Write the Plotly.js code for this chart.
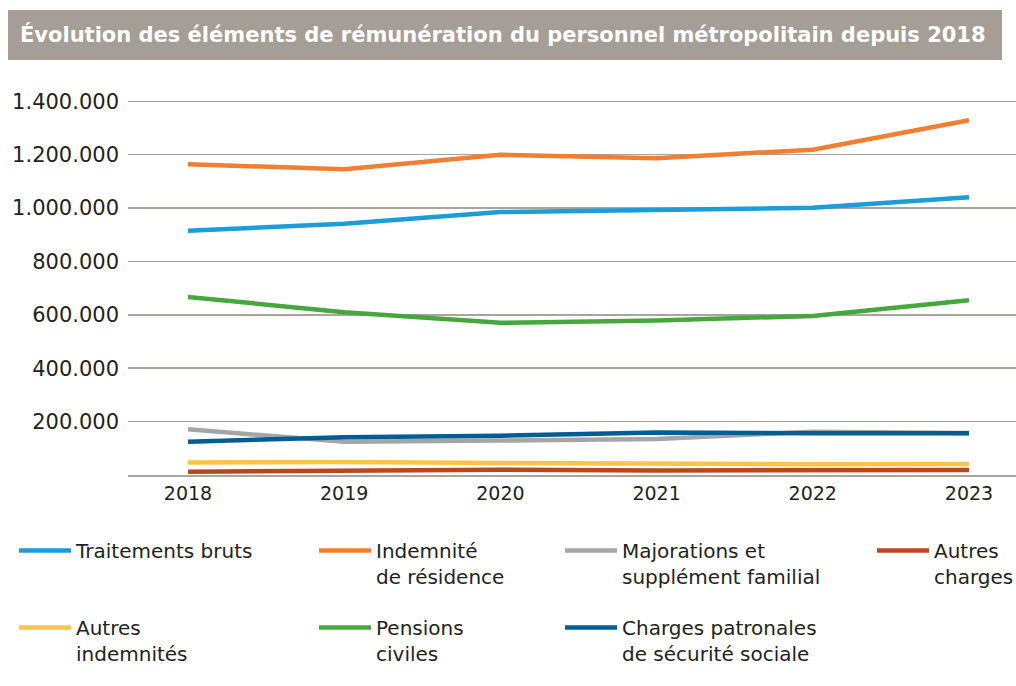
<!DOCTYPE html>
<html><head><meta charset="utf-8">
<script src="https://cdn.plot.ly/plotly-3.0.1.min.js"></script>
<style>html,body{margin:0;padding:0;background:#fff}</style>
</head><body><div id="chart" style="width:1016px;height:686px"></div>
<script>
const years = ['2018','2019','2020','2021','2022','2023'];
const traitementsBruts = [915000, 941000, 985000, 994000, 1001000, 1041000];
const indemniteResidence = [1164000, 1146000, 1200000, 1187000, 1219000, 1329000];
const majorations = [171000, 125000, 129000, 135000, 162000, 157000];
const autresCharges = [12000, 17000, 20000, 17000, 17000, 19000];
const autresIndemnites = [47000, 49000, 45000, 42000, 40000, 41000];
const pensionsCiviles = [667000, 610000, 570000, 579000, 596000, 655000];
const chargesPatronales = [125000, 141000, 147000, 159000, 156000, 156000];
const yTicks = [200000, 400000, 600000, 800000, 1000000, 1200000, 1400000];

const names = {
  tb: 'Traitements bruts',
  ir: 'Indemnité<br>de résidence',
  mj: 'Majorations et<br>supplément familial',
  ac: 'Autres<br>charges',
  ai: 'Autres<br>indemnités',
  pc: 'Pensions<br>civiles',
  cp: 'Charges patronales<br>de sécurité sociale'
};
const W = 4.5;
function tr(y, name, color, legend, group){
  return {x: years, y: y, name: name, type: 'scatter', mode: 'lines',
    line: {color: color, width: W}, legend: legend, legendgroup: group, hoverinfo: 'skip'};
}
const data = [
  tr(traitementsBruts, names.tb, '#1b9dd9', 'legend', 'g1'),
  tr(indemniteResidence, names.ir, '#f07f33', 'legend2', 'g1'),
  tr(majorations, names.mj, '#a5a5a5', 'legend3', 'g1'),
  tr(autresCharges, names.ac, '#b9471c', 'legend4', 'g1'),
  tr(autresIndemnites, names.ai, '#fbc34a', 'legend', 'g2'),
  tr(pensionsCiviles, names.pc, '#46a83c', 'legend2', 'g2'),
  tr(chargesPatronales, names.cp, '#005e95', 'legend3', 'g2')
];
const legFont = {family: 'DejaVu Sans, sans-serif', size: 20, color: '#231f20'};
function leg(xpx, w, gap){
  return {xref: 'container', yref: 'container', x: xpx/1016, y: 1 - 531/686,
    xanchor: 'left', yanchor: 'top', orientation: 'v', font: legFont, itemwidth: w,
    traceorder: 'grouped', tracegroupgap: gap, valign: 'top', bgcolor: 'rgba(0,0,0,0)',
    itemclick: false, itemdoubleclick: false};
}
const layout = {
  width: 1016, height: 686,
  margin: {l: 128, r: 0, t: 100, b: 211, autoexpand: false},
  paper_bgcolor: '#fff', plot_bgcolor: '#fff',
  separators: ',.',
  showlegend: true,
  title: {text: '<b>Évolution des éléments de rémunération du personnel métropolitain depuis 2018</b>',
    xref: 'container', yref: 'container', x: 20/1016, xanchor: 'left', y: 1 - 35/686, yanchor: 'middle',
    font: {family: 'DejaVu Sans, sans-serif', size: 21, color: '#ffffff'}},
  shapes: [{type: 'rect', xref: 'paper', yref: 'paper',
    x0: (8-128)/888, x1: (1002-128)/888, y0: (475-60)/375, y1: (475-10)/375,
    fillcolor: '#a59e97', line: {width: 0}, layer: 'below'}],
  xaxis: {type: 'category', range: [-0.384, 5.301], showgrid: false, showline: true,
    linecolor: '#aaa49e', linewidth: 2, ticks: '', fixedrange: true, tickangle: 0,
    tickfont: {family: 'DejaVu Sans, sans-serif', size: 19, color: '#231f20'}},
  yaxis: {range: [0, 1405000], tickvals: yTicks, tickformat: ',d', showgrid: true,
    gridcolor: '#aaa49e', gridwidth: 1.5, zeroline: false, showline: false, ticks: '',
    ticklabelstandoff: 8, fixedrange: true,
    tickfont: {family: 'DejaVu Sans, sans-serif', size: 21, color: '#231f20'}},
  legend: leg(14, 52, 48),
  legend2: leg(314, 52, 22),
  legend3: leg(560, 52, 22),
  legend4: leg(872, 52, 22)
};
Plotly.newPlot('chart', data, layout, {displayModeBar: false, staticPlot: true});
</script></body></html>
